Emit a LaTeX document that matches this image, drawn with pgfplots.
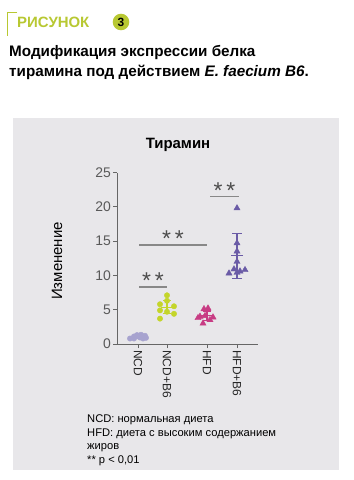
\documentclass[border=0pt]{standalone}
\usepackage{pgfplots}
\pgfplotsset{compat=1.18}
\usepackage{fontspec}
\setmainfont{Liberation Sans}
\definecolor{panel}{HTML}{E8E7EA}
\definecolor{lime}{HTML}{B8C832}
\definecolor{ncd}{HTML}{A7A3CF}
\definecolor{ncdb}{HTML}{C4D52A}
\definecolor{hfd}{HTML}{C83C84}
\definecolor{hfdb}{HTML}{6A5BA6}
\definecolor{axgray}{HTML}{666666}
\definecolor{siggray}{HTML}{888888}
\begin{document}
\begin{tikzpicture}
\path[use as bounding box, fill=white] (0,0) rectangle (354bp,-480bp);
\begin{scope}[x=1bp,y=-1bp]
\fill[panel] (13,118) rectangle (339,470);
% header
\draw[lime, line width=1.6bp] (17,12.5) -- (7.5,12.5) -- (7.5,36);
\node[anchor=base west, inner sep=0, text=lime, font=\fontsize{15}{18}\selectfont\bfseries] at (17,27.5) {РИСУНОК};
\fill[lime] (121,22) circle (8.3);
\node[inner sep=0, font=\fontsize{12}{14}\selectfont\bfseries] at (121,22) {3};
\node[anchor=base west, inner sep=0, font=\fontsize{15.3}{18}\selectfont\bfseries] at (9,56) {Модификация экспрессии белка};
\node[anchor=base west, inner sep=0, font=\fontsize{15.3}{18}\selectfont\bfseries] at (9,76) {тирамина под действием \textit{E. faecium B6}.};
% chart title and y label
\node[inner sep=0, font=\fontsize{15}{18}\selectfont\bfseries] at (178,145) {Тирамин};
\node[inner sep=0, rotate=90, font=\fontsize{15}{18}\selectfont] at (57,261) {Изменение};
% footnote
\node[anchor=base west, inner sep=0, font=\fontsize{11.2}{13}\selectfont] at (87,422) {NCD: нормальная диета};
\node[anchor=base west, inner sep=0, font=\fontsize{11.2}{13}\selectfont] at (87,436) {HFD: диета с высоким содержанием};
\node[anchor=base west, inner sep=0, font=\fontsize{11.2}{13}\selectfont] at (87,449) {жиров};
\node[anchor=base west, inner sep=0, font=\fontsize{11.2}{13}\selectfont] at (87,463) {** p < 0,01};
\end{scope}
\begin{axis}[
  at={(117bp,-344bp)}, anchor=south west,
  scale only axis, width=141bp, height=171.5bp,
  xmin=0, xmax=141, ymin=0, ymax=25,
  axis x line*=bottom, axis y line*=left,
  axis line style={axgray, line width=0.9bp},
  every tick/.style={axgray, line width=0.9bp},
  tick align=outside, major tick length=4bp,
  xtick={21,50,90,120}, xticklabels={NCD,NCD+B6,HFD,HFD+B6},
  x tick label style={rotate=-90, anchor=west, font=\fontsize{12}{14}\selectfont, text=black!85, inner sep=2bp},
  ytick={0,5,10,15,20,25},
  y tick label style={font=\fontsize{14}{16}\selectfont, text=black!65, inner sep=2bp},
  /pgf/number format/assume math mode=true,
  clip=false,
]
% NCD
\addplot[only marks, mark=*, mark size=2.7bp, ncd, mark options={draw=ncd, fill=ncd}] coordinates {
(13,0.8) (17,1.1) (20,1.3) (24,1.35) (28,1.2) (29,0.9) (23,0.95) (17,0.8) (26,0.8)};
\addplot[only marks, mark=-, mark size=5bp, ncd, line width=1bp,
  error bars/.cd, y dir=both, y explicit,
  error bar style={ncd, line width=1bp}, error mark options={rotate=90, mark size=4bp, ncd, line width=1bp}]
  coordinates {(21,1.05) +- (0,0.2)};
% NCD+B6
\addplot[only marks, mark=-, mark size=6bp, ncdb, line width=1.2bp,
  error bars/.cd, y dir=both, y explicit,
  error bar style={ncdb, line width=1.2bp}, error mark options={rotate=90, mark size=4bp, ncdb, line width=1.2bp}]
  coordinates {(50,5.35) +- (0,0.95)};
\addplot[only marks, mark=*, mark size=2.7bp, mark options={draw=ncdb, fill=ncdb}] coordinates {
(50,7.1) (43,5.8) (50,6.3) (57,5.5) (43,4.9) (50,4.7) (57,4.4) (43,3.7)};
% HFD
\addplot[only marks, mark=-, mark size=6bp, hfd, line width=1.2bp,
  error bars/.cd, y dir=both, y explicit,
  error bar style={hfd, line width=1.2bp}, error mark options={rotate=90, mark size=4bp, hfd, line width=1.2bp}]
  coordinates {(90,4.1) +- (0,0.7)};
\addplot[only marks, mark=triangle*, mark size=3.6bp, mark options={draw=hfd, fill=hfd}] coordinates {
(91,5.2) (87,5.1) (83,4.0) (88,4.1) (96,3.9) (93,3.5) (86,3.0) (81,3.8)};
% HFD+B6
\addplot[only marks, mark=-, mark size=6bp, hfdb, line width=1.2bp,
  error bars/.cd, y dir=both, y explicit,
  error bar style={hfdb, line width=1.2bp}, error mark options={rotate=90, mark size=5bp, hfdb, line width=1.2bp}]
  coordinates {(120,12.85) +- (0,3.25)};
\addplot[only marks, mark=triangle*, mark size=3.6bp, mark options={draw=hfdb, fill=hfdb}] coordinates {
(120,19.8) (120,14.7) (120,13.5) (120,12.0) (117,10.9) (112,10.3) (123,10.6) (128,10.8) (120,10.4)};
% significance lines
\addplot[siggray, line width=1.6bp, no marks] coordinates {(22,8.3) (50,8.3)};
\addplot[siggray, line width=1.6bp, no marks] coordinates {(22,14.4) (90,14.4)};
\addplot[siggray, line width=1.6bp, no marks] coordinates {(93,21.5) (122,21.5)};
\node[text=black!70, font=\fontsize{23}{23}\selectfont, inner sep=0] at (axis cs:36,9.2) {*\,*};
\node[text=black!70, font=\fontsize{23}{23}\selectfont, inner sep=0] at (axis cs:56,15.3) {*\,*};
\node[text=black!70, font=\fontsize{23}{23}\selectfont, inner sep=0] at (axis cs:107.5,22.4) {*\,*};
\end{axis}
\end{tikzpicture}
\end{document}
